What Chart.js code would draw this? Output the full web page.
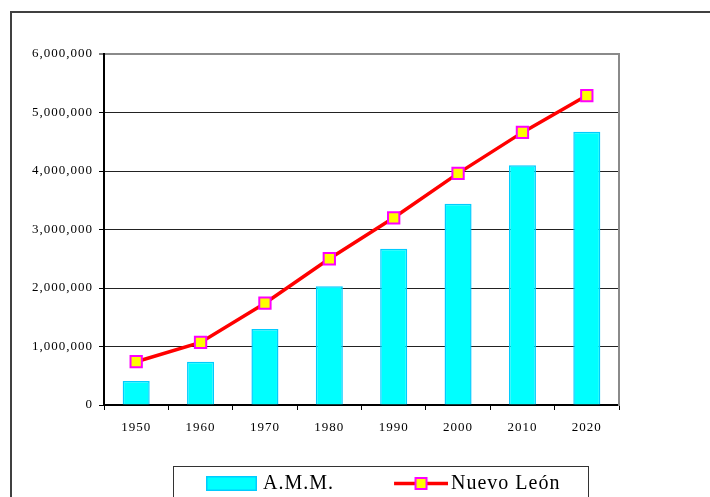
<!DOCTYPE html>
<html>
<head>
<meta charset="utf-8">
<script src="https://cdn.jsdelivr.net/npm/chart.js@4"></script>
<style>
  html, body { margin: 0; padding: 0; background: #fff; }
  #wrap { position: relative; width: 710px; height: 497px; overflow: hidden; }
  #frame { position: absolute; left: 10px; top: 11px; width: 720px; height: 500px;
           border-left: 2px solid #404040; border-top: 2px solid #404040; }
  #legendBox { position: absolute; left: 173px; top: 466px; width: 414px; height: 60px;
               border: 1px solid #333; }
  canvas { position: absolute; left: 0; top: 0; }
</style>
</head>
<body>
<div id="wrap">
  <div id="frame"></div>
  <div id="legendBox"></div>
  <canvas id="c" width="710" height="497"></canvas>
</div>
<script>
const years = ['1950', '1960', '1970', '1980', '1990', '2000', '2010', '2020'];
const ammValues = [410000, 740000, 1300000, 2030000, 2670000, 3440000, 4100000, 4670000];
const nuevoLeonValues = [740000, 1070000, 1740000, 2500000, 3200000, 3960000, 4660000, 5290000];
const seriesNames = ['A.M.M.', 'Nuevo León'];
const yTicks = [0, 1000000, 2000000, 3000000, 4000000, 5000000, 6000000];

const FONT = "'Liberation Serif', 'Times New Roman', serif";

function makeBarIcon() {
  const c = document.createElement('canvas');
  c.width = 108; c.height = 15;
  const g = c.getContext('2d');
  g.fillStyle = '#00FFFF';
  g.fillRect(57, 0, 51, 15);
  g.strokeStyle = '#00CCFF';
  g.lineWidth = 1.5;
  g.strokeRect(57.75, 0.75, 49.5, 13.5);
  return c;
}
function makeLineIcon() {
  const c = document.createElement('canvas');
  c.width = 114; c.height = 15;
  const g = c.getContext('2d');
  g.strokeStyle = '#FF0000';
  g.lineWidth = 3.5;
  g.beginPath(); g.moveTo(60, 7.5); g.lineTo(114, 7.5); g.stroke();
  g.fillStyle = '#FFFF00';
  g.fillRect(81.5, 2, 11, 11);
  g.strokeStyle = '#FF00FF';
  g.lineWidth = 2;
  g.strokeRect(81.5, 2, 11, 11);
  return c;
}
const barIcon = makeBarIcon();
const lineIcon = makeLineIcon();

const layoutPlugin = {
  id: 'layoutTweaks',
  afterLayout(chart) {
    const lg = chart.legend;
    if (lg) {
      lg.left = 146; lg.right = 705; lg.width = 559;
      lg.top = 466.5; lg.bottom = 496; lg.height = 29.5;
    }
  },
  beforeDraw(chart) {
    chart.ctx.letterSpacing = '1px';
  }
};

new Chart(document.getElementById('c'), {
  data: {
    labels: years,
    datasets: [
      {
        type: 'bar',
        label: seriesNames[0],
        data: ammValues,
        backgroundColor: '#00FFFF',
        borderColor: '#00CCFF',
        borderWidth: 1.5,
        categoryPercentage: 1,
        barPercentage: 0.42,
        order: 2
      },
      {
        type: 'line',
        label: seriesNames[1],
        data: nuevoLeonValues,
        borderColor: '#FF0000',
        borderWidth: 3.5,
        tension: 0,
        pointStyle: 'rect',
        pointRadius: 8,
        pointHoverRadius: 8,
        pointBackgroundColor: '#FFFF00',
        pointBorderColor: '#FF00FF',
        pointBorderWidth: 2,
        order: 1
      }
    ]
  },
  options: {
    responsive: false,
    animation: false,
    devicePixelRatio: 1,
    layout: { padding: { left: 10, right: 91, top: 54, bottom: 51 } },
    plugins: {
      tooltip: { enabled: false },
      title: { display: false },
      legend: {
        display: true,
        position: 'bottom',
        align: 'start',
        maxHeight: 1,
        labels: {
          font: { family: FONT, size: 20 },
          color: '#000',
          usePointStyle: true,
          pointStyleWidth: 100,
          boxHeight: 15,
          padding: 7,
          generateLabels: () => [
            { text: seriesNames[0], pointStyle: barIcon, fillStyle: '#00FFFF', strokeStyle: '#00CCFF', lineWidth: 0, hidden: false, datasetIndex: 0, fontColor: '#000' },
            { text: seriesNames[1], pointStyle: lineIcon, fillStyle: '#FFFF00', strokeStyle: '#FF0000', lineWidth: 0, hidden: false, datasetIndex: 1, fontColor: '#000' }
          ]
        }
      }
    },
    scales: {
      x: {
        type: 'category',
        offset: true,
        grid: {
          display: true,
          offset: true,
          drawOnChartArea: false,
          drawTicks: true,
          tickLength: 5,
          tickColor: '#000',
          tickWidth: 1
        },
        border: { display: true, color: '#000', width: 2 },
        ticks: {
          font: { family: FONT, size: 13 },
          color: '#000',
          padding: 10,
          maxRotation: 0,
          autoSkip: false
        },
        afterFit: (s) => { s.height = 40; }
      },
      y: {
        type: 'linear',
        position: 'left',
        min: yTicks[0],
        max: yTicks[yTicks.length - 1],
        afterBuildTicks: (s) => { s.ticks = yTicks.map(v => ({ value: v })); },
        grid: {
          color: (ctx) => (ctx.tick && ctx.tick.value === 6000000) ? '#8a8a8a' : '#222',
          lineWidth: (ctx) => (ctx.tick && ctx.tick.value === 6000000) ? 2 : 1,
          drawTicks: true,
          tickLength: 5,
          tickColor: '#000',
          tickWidth: 1
        },
        border: { display: true, color: '#000', width: 2 },
        ticks: {
          font: { family: FONT, size: 13 },
          color: '#000',
          padding: 6,
          callback: (v) => Number(v).toLocaleString('en-US')
        },
        afterFit: (s) => { s.width = 94; }
      },
      y2: {
        type: 'linear',
        position: 'right',
        min: yTicks[0],
        max: yTicks[yTicks.length - 1],
        grid: { drawOnChartArea: false, drawTicks: false },
        border: { display: true, color: '#8a8a8a', width: 2 },
        ticks: { display: false },
        afterFit: (s) => { s.width = 0; }
      }
    }
  },
  plugins: [layoutPlugin]
});
</script>
</body>
</html>
